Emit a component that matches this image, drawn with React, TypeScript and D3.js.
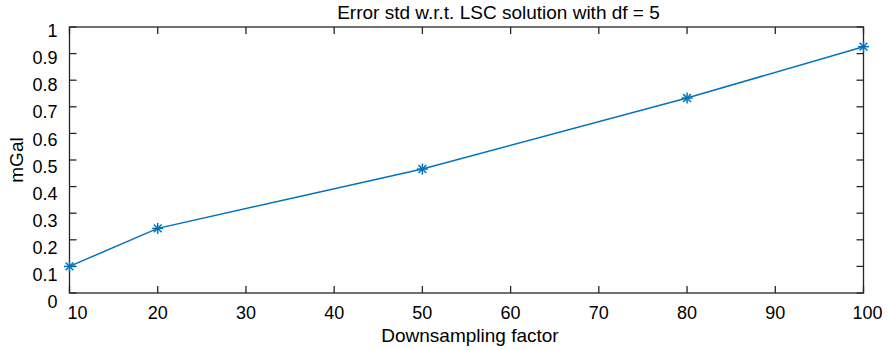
import React from "react";
import * as d3 from "d3";

const factors = [10, 20, 50, 80, 100];
const errStd = [0.1, 0.243, 0.466, 0.733, 0.926];
const xTicks = [10, 20, 30, 40, 50, 60, 70, 80, 90, 100];
const yTicks = [0, 0.1, 0.2, 0.3, 0.4, 0.5, 0.6, 0.7, 0.8, 0.9, 1];
const title = "Error std w.r.t. LSC solution with df = 5";
const xLabel = "Downsampling factor";
const yLabel = "mGal";

const W = 888, H = 350;
const L = 69.5, R = 863.5, T = 27, B = 293;
const axisColor = "#262626";
const lineColor = "#0072BD";
const font = "'Liberation Sans', Arial, Helvetica, sans-serif";

export default function App() {
  const x = d3.scaleLinear().domain([10, 100]).range([L, R]);
  const y = d3.scaleLinear().domain([0, 1]).range([B, T]);
  const yLab = d3.scaleLinear().domain([0, 1]).range([302, 30.5]);
  const line = d3.line<number>().x((_, i) => x(factors[i])).y((d) => y(d));
  const tk = 7;
  const ms = 5.5;
  const xShift = (t: number) => (t === 10 ? 8 : t === 100 ? 4 : 0);
  return (
    <svg width={W} height={H} style={{ position: "absolute", left: 0, top: 0, fontFamily: font }}>
      <rect x={0} y={0} width={W} height={H} fill="#fff" />
      <rect x={L} y={T} width={R - L} height={B - T} fill="none" stroke={axisColor} strokeWidth={1.3} />
      {xTicks.map((t) => (
        <g key={"x" + t}>
          <line x1={x(t)} x2={x(t)} y1={B} y2={B - tk} stroke={axisColor} strokeWidth={1.3} />
          <line x1={x(t)} x2={x(t)} y1={T} y2={T + tk} stroke={axisColor} strokeWidth={1.3} />
          <text x={x(t) + xShift(t)} y={318.5} textAnchor="middle" fontSize={18} fill="#000">{t}</text>
        </g>
      ))}
      {yTicks.map((t) => (
        <g key={"y" + t}>
          <line x1={L} x2={L + tk} y1={y(t)} y2={y(t)} stroke={axisColor} strokeWidth={1.3} />
          <line x1={R} x2={R - tk} y1={y(t)} y2={y(t)} stroke={axisColor} strokeWidth={1.3} />
          <text x={57.5} y={yLab(t)} dy="0.36em" textAnchor="end" fontSize={18} fill="#000">{t}</text>
        </g>
      ))}
      <path d={line(errStd) || ""} fill="none" stroke={lineColor} strokeWidth={1.5} />
      {errStd.map((v, i) => {
        const cx = x(factors[i]), cy = y(v);
        const d = ms * 0.7071;
        return (
          <g key={"m" + i} stroke={lineColor} strokeWidth={1.5}>
            <line x1={cx - ms} x2={cx + ms} y1={cy} y2={cy} />
            <line x1={cx} x2={cx} y1={cy - ms} y2={cy + ms} />
            <line x1={cx - d} x2={cx + d} y1={cy - d} y2={cy + d} />
            <line x1={cx - d} x2={cx + d} y1={cy + d} y2={cy - d} />
          </g>
        );
      })}
      <text x={498.5} y={19} textAnchor="middle" fontSize={19} fill="#000">{title}</text>
      <text x={470} y={342.3} textAnchor="middle" fontSize={19} fill="#000">{xLabel}</text>
      <text transform={`translate(23,${(T + B) / 2}) rotate(-90)`} textAnchor="middle" fontSize={19} fill="#000">{yLabel}</text>
    </svg>
  );
}
